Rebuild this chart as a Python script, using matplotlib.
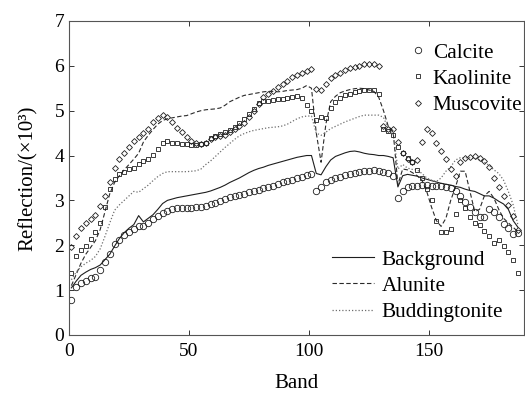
import numpy as np
import matplotlib
matplotlib.use("Agg")
import matplotlib.pyplot as plt
from matplotlib.lines import Line2D

plt.rcParams["font.family"] = ["Liberation Serif", "DejaVu Serif"]

# odd band numbers 1..187, values in units of 10^3
BANDS = np.arange(1, 188, 2)

BACKGROUND = [
    1.05, 1.20, 1.33, 1.40, 1.46, 1.50, 1.56, 1.68, 1.80, 1.98,
    2.15, 2.28, 2.38, 2.46, 2.66, 2.52, 2.60, 2.68, 2.80, 2.93,
    3.00, 3.03, 3.06, 3.08, 3.10, 3.12, 3.14, 3.16, 3.18, 3.21,
    3.25, 3.29, 3.34, 3.40, 3.45, 3.50, 3.56, 3.62, 3.67, 3.71,
    3.74, 3.78, 3.81, 3.84, 3.87, 3.90, 3.93, 3.96, 3.98, 4.00,
    4.00, 3.60, 3.57, 3.75, 3.90, 3.98, 4.02, 4.06, 4.09, 4.10,
    4.08, 4.05, 4.03, 4.02, 4.00, 4.00, 3.98, 3.95, 3.30, 3.55,
    3.58, 3.56, 3.54, 3.50, 3.47, 3.44, 3.41, 3.38, 3.36, 3.34,
    3.31, 3.29, 3.25, 3.22, 3.20, 3.15, 3.10, 3.10, 3.05, 2.98,
    2.92, 2.80, 2.55, 2.40,
]
ALUNITE = [
    1.10, 1.35, 1.60, 1.80, 1.95, 2.10, 2.35, 2.75, 3.15, 3.40,
    3.55, 3.68, 3.80, 3.92, 4.05, 4.30, 4.45, 4.58, 4.70, 4.78,
    4.82, 4.84, 4.86, 4.88, 4.89, 4.93, 4.97, 5.00, 5.02, 5.03,
    5.04, 5.06, 5.12, 5.20, 5.25, 5.30, 5.34, 5.36, 5.38, 5.40,
    5.42, 5.43, 5.43, 5.42, 5.43, 5.45, 5.46, 5.47, 5.50, 5.56,
    5.50, 4.50, 3.85, 4.70, 5.20, 5.32, 5.40, 5.44, 5.47, 5.49,
    5.50, 5.49, 5.46, 5.43, 5.30, 5.00, 4.65, 4.55, 3.35, 3.70,
    3.68, 3.62, 3.55, 3.45, 3.20, 2.85, 2.55, 2.42, 2.60, 3.00,
    3.30, 3.65, 3.65, 3.20, 2.75, 2.80, 3.10, 3.20, 3.05, 2.80,
    2.60, 2.50, 2.40, 2.30,
]
BUDDINGTONITE = [
    1.23, 1.40, 1.52, 1.60, 1.66, 1.75, 1.92, 2.20, 2.50, 2.78,
    2.90, 3.00, 3.10, 3.20, 3.18, 3.26, 3.34, 3.44, 3.53, 3.60,
    3.64, 3.64, 3.64, 3.64, 3.64, 3.65, 3.66, 3.70, 3.80, 3.88,
    3.98, 4.08, 4.18, 4.27, 4.36, 4.44, 4.49, 4.53, 4.56, 4.58,
    4.60, 4.62, 4.63, 4.64, 4.66, 4.70, 4.76, 4.82, 4.86, 4.88,
    4.88, 4.50, 4.45, 4.52, 4.60, 4.65, 4.70, 4.75, 4.79, 4.83,
    4.87, 4.90, 4.90, 4.90, 4.90, 4.85, 4.60, 4.50, 3.70, 3.80,
    3.72, 3.69, 3.68, 3.60, 3.50, 3.45, 3.42, 3.50, 3.65, 3.75,
    3.90, 3.95, 3.95, 3.95, 3.93, 3.90, 3.85, 3.78, 3.68, 3.60,
    3.45, 3.20, 2.90, 2.45,
]
CALCITE = [
    0.78, 1.08, 1.15, 1.20, 1.26, 1.30, 1.45, 1.62, 1.80, 2.02,
    2.12, 2.22, 2.30, 2.37, 2.42, 2.42, 2.50, 2.58, 2.66, 2.72,
    2.76, 2.80, 2.82, 2.83, 2.84, 2.84, 2.85, 2.86, 2.88, 2.91,
    2.95, 2.99, 3.03, 3.07, 3.10, 3.13, 3.15, 3.18, 3.21, 3.24,
    3.27, 3.30, 3.33, 3.36, 3.40, 3.43, 3.46, 3.50, 3.53, 3.56,
    3.58, 3.22, 3.30, 3.40, 3.46, 3.50, 3.53, 3.56, 3.59, 3.61,
    3.63, 3.65, 3.66, 3.67, 3.66, 3.64, 3.61, 3.55, 3.05, 3.22,
    3.30, 3.32, 3.33, 3.34, 3.34, 3.33, 3.33, 3.31, 3.30, 3.28,
    3.20, 3.10, 2.97, 2.86, 2.75, 2.62, 2.62, 2.80, 2.74, 2.62,
    2.48, 2.38, 2.26, 2.28,
]
KAOLINITE = [
    1.38, 1.75, 1.90, 1.98, 2.15, 2.30, 2.50, 2.86, 3.25, 3.48,
    3.58, 3.63, 3.69, 3.73, 3.80, 3.87, 3.93, 4.01, 4.15, 4.28,
    4.33, 4.29, 4.27, 4.26, 4.25, 4.24, 4.24, 4.25, 4.27, 4.38,
    4.43, 4.47, 4.52, 4.57, 4.63, 4.72, 4.82, 4.92, 5.03, 5.16,
    5.21, 5.22, 5.24, 5.26, 5.27, 5.28, 5.30, 5.33, 5.28, 5.12,
    5.00, 4.80, 4.86, 4.84, 5.05, 5.20, 5.28, 5.34, 5.38, 5.41,
    5.43, 5.45, 5.46, 5.45, 5.38, 4.60, 4.55, 4.45, 4.20, 4.05,
    3.95, 3.85, 3.68, 3.50, 3.25, 3.00, 2.55, 2.30, 2.30, 2.36,
    2.70, 3.00, 2.82, 2.62, 2.50, 2.45, 2.32, 2.20, 2.05, 2.12,
    1.98, 1.85, 1.67, 1.38,
]
MUSCOVITE = [
    1.95, 2.20, 2.38, 2.50, 2.58, 2.68, 2.88, 3.10, 3.40, 3.72,
    3.92, 4.06, 4.18, 4.32, 4.42, 4.50, 4.60, 4.74, 4.83, 4.90,
    4.85, 4.74, 4.62, 4.52, 4.42, 4.33, 4.28, 4.26, 4.28, 4.36,
    4.41, 4.43, 4.46, 4.53, 4.60, 4.66, 4.73, 4.85, 5.00, 5.15,
    5.30, 5.38, 5.44, 5.52, 5.60, 5.67, 5.74, 5.79, 5.84, 5.89,
    5.93, 5.48, 5.45, 5.60, 5.72, 5.80, 5.85, 5.90, 5.94, 5.97,
    6.00, 6.04, 6.05, 6.03, 6.00, 4.65, 4.58, 4.60, 4.30, 4.05,
    3.92, 3.85, 3.90, 4.30, 4.60, 4.50, 4.27, 4.10, 3.92, 3.70,
    3.55, 3.85, 3.95, 3.97, 3.98, 3.95, 3.88, 3.75, 3.50, 3.30,
    3.10, 2.90, 2.65, 2.35,
]

LINE_NAMES = ["Background", "Alunite", "Buddingtonite"]
MARKER_NAMES = ["Calcite", "Kaolinite", "Muscovite"]

ink = "#1e1e1e"
fig = plt.figure(figsize=(5.25, 3.95), dpi=100)
ax = fig.add_axes([0.1314, 0.152, 0.8666, 0.795])

line_styles = [
    dict(ls="-", color=ink, lw=0.8),
    dict(ls=(0, (4, 2.2)), color="#2a2a2a", lw=0.8),
    dict(ls=(0, (1, 1.6)), color="#6e6e6e", lw=0.9),
]
for vals, st in zip([BACKGROUND, ALUNITE, BUDDINGTONITE], line_styles):
    ax.plot(BANDS, vals, **st)

marker_styles = [
    dict(marker="o", ms=4.6),
    dict(marker="s", ms=2.3),
    dict(marker="D", ms=3.0),
]
for vals, st in zip([CALCITE, KAOLINITE, MUSCOVITE], marker_styles):
    ax.plot(BANDS, vals, ls="none", mfc="none", mec=ink, mew=0.6, **st)

ax.set_xlim(0, 189.5)
ax.set_ylim(0, 7)
ax.set_xticks([0, 50, 100, 150])
ax.set_yticks(range(8))
ax.tick_params(direction="in", top=True, right=True, labelsize=14,
               length=3.5, width=0.7, colors="#333333", labelcolor="black")
ax.tick_params(axis="x", pad=6)
for sp in ax.spines.values():
    sp.set_linewidth(0.8)
    sp.set_color("#555555")
ax.set_xlabel("Band", fontsize=15, labelpad=10)
ax.set_ylabel("Reflection/(×10³)", fontsize=15, labelpad=12)

h_mark = [Line2D([], [], ls="none", mfc="none", mec=ink, mew=0.6, **st)
          for st in marker_styles]
leg1 = fig.legend(h_mark, MARKER_NAMES, loc="upper left",
                  bbox_to_anchor=(0.780, 0.892), frameon=False, fontsize=15.3,
                  handlelength=0.8, handletextpad=0.3, labelspacing=0.3,
                  borderpad=0, borderaxespad=0)
h_line = [Line2D([], [], **st) for st in line_styles]
leg2 = fig.legend(h_line, LINE_NAMES, loc="upper left",
                  bbox_to_anchor=(0.632, 0.368), frameon=False, fontsize=15.3,
                  handlelength=2.0, handletextpad=0.35, labelspacing=0.3,
                  borderpad=0, borderaxespad=0)

fig.savefig("out.png", dpi=100)
